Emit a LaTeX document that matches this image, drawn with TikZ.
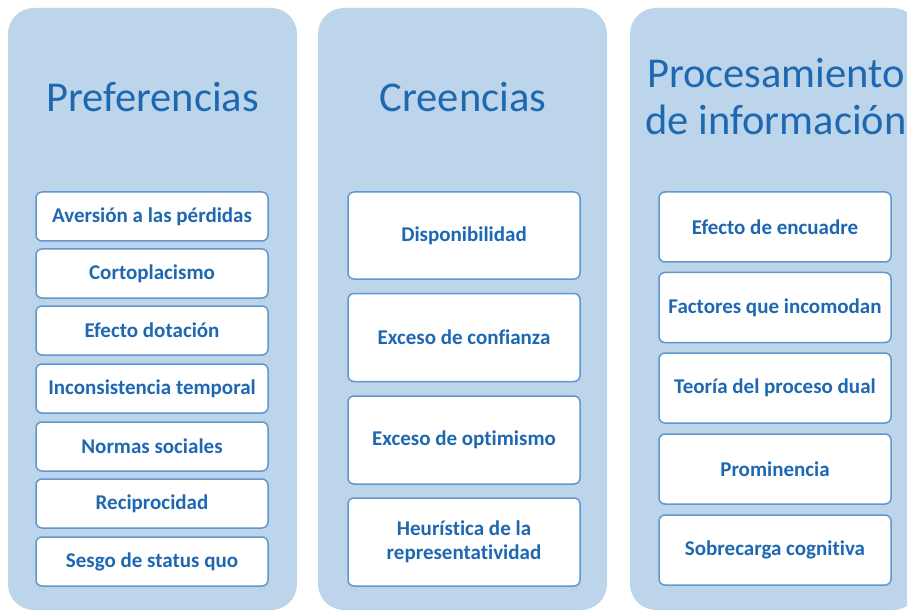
\documentclass[tikz,border=0pt]{standalone}
\usepackage{fontspec}
\setmainfont{Carlito}[Ligatures=NoCommon]
\definecolor{panelfill}{RGB}{189,213,234}
\definecolor{boxline}{RGB}{96,152,206}
\definecolor{txtblue}{RGB}{30,104,178}
\tikzset{
  panel/.style={fill=panelfill, draw=none, rounded corners=26pt},
  itembox/.style={draw=boxline, fill=white, line width=1.5pt, rounded corners=6pt,
    minimum width=232pt, inner sep=0pt, align=center, text=txtblue,
    font=\fontsize{21}{24}\selectfont\bfseries},
  ptitle/.style={text=txtblue, font=\fontsize{42.5}{47}\selectfont, align=center, inner sep=0pt}
}
\begin{document}
\begin{tikzpicture}[x=1pt,y=-1pt]
\useasboundingbox (0,0) rectangle (907,612);
\clip (0,0) rectangle (907,612);
\fill[white] (0,0) rectangle (907,612);
% panels
\path[panel] (8,8) rectangle (297,610);
\path[panel] (318,8) rectangle (607,610);
\path[panel] (630,8) rectangle (919,610);
% titles
\node[ptitle] (t1) at (152.5,97) {Preferencias};
\node[ptitle] (t2) at (463,97) {Creencias};
\node[ptitle] (t3) at (776,97) {Procesamiento\\de información};
% column 1
\node[itembox, minimum height=49pt] (a1) at (152,216.5) {Aversión a las pérdidas};
\node[itembox, minimum height=49pt] (a2) at (152,273.5) {Cortoplacismo};
\node[itembox, minimum height=49pt] (a3) at (152,330.5) {Efecto dotación};
\node[itembox, minimum height=49pt] (a4) at (152,388.5) {Inconsistencia temporal};
\node[itembox, minimum height=49pt] (a5) at (152,446.5) {Normas sociales};
\node[itembox, minimum height=49pt] (a6) at (152,503.5) {Reciprocidad};
\node[itembox, minimum height=49pt] (a7) at (152,561.5) {Sesgo de status quo};
% column 2
\node[itembox, minimum height=87pt] (b1) at (464,235.5) {Disponibilidad};
\node[itembox, minimum height=88pt] (b2) at (464,337.5) {Exceso de confianza};
\node[itembox, minimum height=88pt] (b3) at (464,440) {Exceso de optimismo};
\node[itembox, minimum height=88pt] (b4) at (464,542) {Heurística de la\\representatividad};
% column 3
\node[itembox, minimum height=70pt] (c1) at (775,227) {Efecto de encuadre};
\node[itembox, minimum height=70pt] (c2) at (775,307.5) {Factores que incomodan};
\node[itembox, minimum height=70pt] (c3) at (775,388) {Teoría del proceso dual};
\node[itembox, minimum height=70pt] (c4) at (775,469) {Prominencia};
\node[itembox, minimum height=70pt] (c5) at (775,550) {Sobrecarga cognitiva};
\end{tikzpicture}
\end{document}
